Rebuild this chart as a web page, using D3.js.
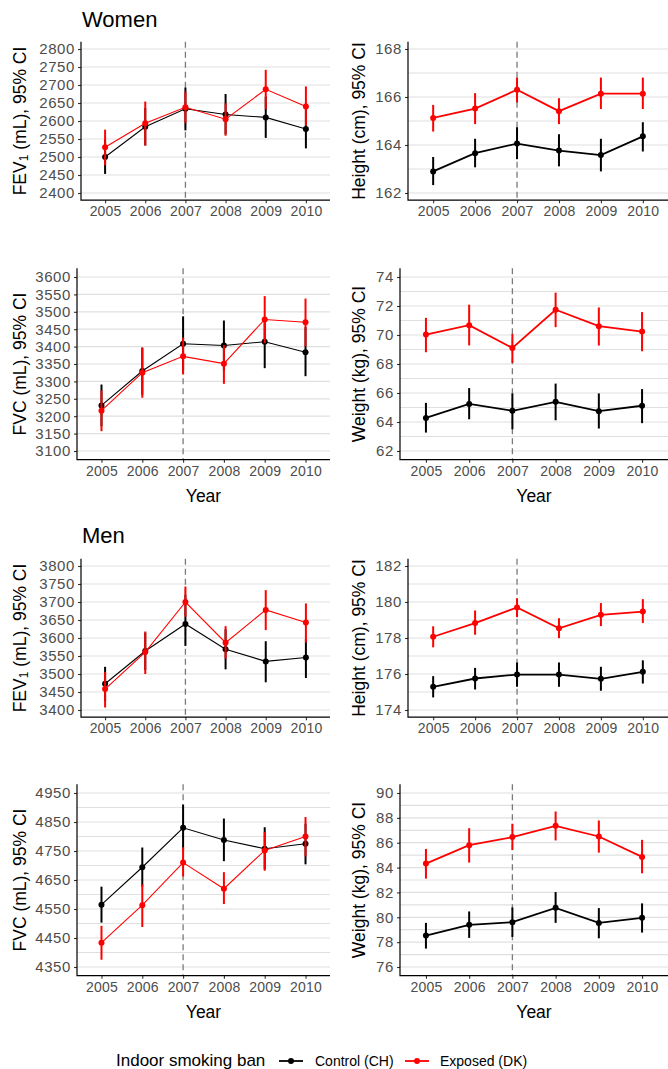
<!DOCTYPE html>
<html>
<head>
<meta charset="utf-8">
<script src="https://cdn.jsdelivr.net/npm/d3@7"></script>
<style>
  html, body { margin: 0; padding: 0; background: #ffffff; }
  svg { display: block; font-family: "Liberation Sans", Arial, sans-serif; }
</style>
</head>
<body>
<svg id="chart" width="668" height="1069"></svg>
<script>
// ---------------- DATA ----------------
const years = ["2005", "2006", "2007", "2008", "2009", "2010"];
const banYear = "2007";
const seriesNames = ["Control (CH)", "Exposed (DK)"];
const seriesColors = ["#000000", "#ff0000"];
const sectionTitles = ["Women", "Men"];
const legendTitle = "Indoor smoking ban";
const xTitle = "Year";

// each entry: [estimate, lower 95% CI, upper 95% CI]
const womenFev1Control = [[2500, 2453, 2548], [2584, 2532, 2636], [2634, 2574, 2693], [2618, 2563, 2675], [2610, 2553, 2668], [2578, 2524, 2632]];
const womenFev1Exposed = [[2527, 2477, 2576], [2594, 2532, 2654], [2638, 2594, 2682], [2605, 2559, 2649], [2688, 2633, 2742], [2640, 2587, 2696]];
const womenHeightControl = [[162.9, 162.33, 163.5], [163.66, 163.07, 164.26], [164.06, 163.41, 164.74], [163.77, 163.11, 164.45], [163.58, 162.9, 164.26], [164.36, 163.73, 164.95]];
const womenHeightExposed = [[165.13, 164.56, 165.67], [165.52, 164.87, 166.16], [166.3, 165.77, 166.81], [165.41, 164.87, 165.95], [166.14, 165.5, 166.81], [166.14, 165.5, 166.81]];
const womenFvcControl = [[3231, 3171, 3291], [3330, 3262, 3397], [3408, 3330, 3487], [3403, 3330, 3475], [3414, 3338, 3480], [3384, 3315, 3456]];
const womenFvcExposed = [[3216, 3157, 3274], [3325, 3253, 3397], [3372, 3320, 3426], [3351, 3293, 3404], [3478, 3410, 3545], [3470, 3401, 3538]];
const womenWeightControl = [[64.28, 63.27, 65.32], [65.25, 64.19, 66.34], [64.77, 63.5, 65.97], [65.39, 64.12, 66.65], [64.75, 63.55, 65.97], [65.12, 63.92, 66.27]];
const womenWeightExposed = [[70.03, 68.81, 71.18], [70.68, 69.28, 72.09], [69.11, 68.07, 70.08], [71.74, 70.54, 72.92], [70.61, 69.27, 71.9], [70.24, 68.88, 71.58]];

const menFev1Control = [[3473, 3425, 3520], [3564, 3511, 3615], [3639, 3578, 3720], [3569, 3513, 3624], [3535, 3477, 3591], [3546, 3489, 3597]];
const menFev1Exposed = [[3458, 3407, 3506], [3561, 3500, 3618], [3700, 3659, 3743], [3587, 3542, 3633], [3678, 3622, 3733], [3643, 3587, 3696]];
const menHeightControl = [[175.29, 174.7, 175.88], [175.75, 175.14, 176.34], [175.97, 175.29, 176.64], [175.97, 175.29, 176.64], [175.73, 175.07, 176.4], [176.12, 175.47, 176.76]];
const menHeightExposed = [[178.07, 177.48, 178.65], [178.83, 178.18, 179.53], [179.7, 179.16, 180.21], [178.54, 177.99, 179.1], [179.29, 178.66, 179.94], [179.47, 178.83, 180.16]];
const menFvcControl = [[4565, 4503, 4627], [4694, 4627, 4762], [4830, 4754, 4910], [4788, 4715, 4862], [4758, 4687, 4832], [4775, 4704, 4844]];
const menFvcExposed = [[4434, 4375, 4492], [4563, 4488, 4635], [4710, 4662, 4763], [4620, 4567, 4677], [4752, 4682, 4816], [4800, 4731, 4867]];
const menWeightControl = [[78.53, 77.48, 79.55], [79.39, 78.34, 80.47], [79.61, 78.42, 80.79], [80.76, 79.55, 82.03], [79.55, 78.31, 80.74], [79.96, 78.77, 81.12]];
const menWeightExposed = [[84.32, 83.11, 85.5], [85.8, 84.4, 87.17], [86.45, 85.42, 87.53], [87.36, 86.18, 88.51], [86.5, 85.2, 87.79], [84.86, 83.54, 86.23]];

// axis limits and tick labels
const womenFev1Limits = [2400, 2800];
const womenFev1Ticks = [2400, 2450, 2500, 2550, 2600, 2650, 2700, 2750, 2800];
const womenFev1Minor = [];
const womenHeightLimits = [162, 168];
const womenHeightTicks = [162, 164, 166, 168];
const womenHeightMinor = [163, 165, 167];
const womenFvcLimits = [3100, 3600];
const womenFvcTicks = [3100, 3150, 3200, 3250, 3300, 3350, 3400, 3450, 3500, 3550, 3600];
const womenFvcMinor = [];
const womenWeightLimits = [62, 74];
const womenWeightTicks = [62, 64, 66, 68, 70, 72, 74];
const womenWeightMinor = [63, 65, 67, 69, 71, 73];
const menFev1Limits = [3400, 3800];
const menFev1Ticks = [3400, 3450, 3500, 3550, 3600, 3650, 3700, 3750, 3800];
const menFev1Minor = [];
const menHeightLimits = [174, 182];
const menHeightTicks = [174, 176, 178, 180, 182];
const menHeightMinor = [175, 177, 179, 181];
const menFvcLimits = [4350, 4950];
const menFvcTicks = [4350, 4450, 4550, 4650, 4750, 4850, 4950];
const menFvcMinor = [4400, 4500, 4600, 4700, 4800, 4900];
const menWeightLimits = [76, 90];
const menWeightTicks = [76, 78, 80, 82, 84, 86, 88, 90];
const menWeightMinor = [77, 79, 81, 83, 85, 87, 89];

// ---------------- LAYOUT ----------------
const svg = d3.select("#chart");
const rows = [
  { top: 41.8, bottom: 200.2 },
  { top: 268.3, bottom: 459.7 },
  { top: 558.8, bottom: 717.2 },
  { top: 784.3, bottom: 975.7 }
];

const panels = [
  { row: 0, left: 81, right: 330, ctl: womenFev1Control, exp: womenFev1Exposed, lim: womenFev1Limits, ticks: womenFev1Ticks, minor: womenFev1Minor, label: "fev1", thin: true, ytx: 20 },
  { row: 0, left: 408, right: 668, ctl: womenHeightControl, exp: womenHeightExposed, lim: womenHeightLimits, ticks: womenHeightTicks, minor: womenHeightMinor, label: "Height (cm), 95% CI", thin: false, ytx: 359 },
  { row: 1, left: 77, right: 330, ctl: womenFvcControl, exp: womenFvcExposed, lim: womenFvcLimits, ticks: womenFvcTicks, minor: womenFvcMinor, label: "FVC (mL), 95% CI", thin: true, ytx: 20, xtitle: true },
  { row: 1, left: 400, right: 668, ctl: womenWeightControl, exp: womenWeightExposed, lim: womenWeightLimits, ticks: womenWeightTicks, minor: womenWeightMinor, label: "Weight (kg), 95% CI", thin: false, ytx: 359, xtitle: true },
  { row: 2, left: 81, right: 330, ctl: menFev1Control, exp: menFev1Exposed, lim: menFev1Limits, ticks: menFev1Ticks, minor: menFev1Minor, label: "fev1", thin: true, ytx: 20 },
  { row: 2, left: 408, right: 668, ctl: menHeightControl, exp: menHeightExposed, lim: menHeightLimits, ticks: menHeightTicks, minor: menHeightMinor, label: "Height (cm), 95% CI", thin: false, ytx: 359 },
  { row: 3, left: 77, right: 330, ctl: menFvcControl, exp: menFvcExposed, lim: menFvcLimits, ticks: menFvcTicks, minor: menFvcMinor, label: "FVC (mL), 95% CI", thin: true, ytx: 20, xtitle: true },
  { row: 3, left: 400, right: 668, ctl: menWeightControl, exp: menWeightExposed, lim: menWeightLimits, ticks: menWeightTicks, minor: menWeightMinor, label: "Weight (kg), 95% CI", thin: false, ytx: 359, xtitle: true }
];

const gridColor = "#e0e0e0";
const tickTextColor = "#4d4d4d";

panels.forEach(p => {
  const r = rows[p.row];
  const span = p.lim[1] - p.lim[0];
  const y = d3.scaleLinear().domain([p.lim[0] - 0.05 * span, p.lim[1] + 0.05 * span]).range([r.bottom, r.top]);
  const x = d3.scalePoint().domain(years).range([p.left, p.right]).padding(0.6);
  const g = svg.append("g");

  // grid lines
  const gridVals = p.ticks.concat(p.minor);
  g.append("g").selectAll("line").data(gridVals).join("line")
    .attr("x1", p.left).attr("x2", p.right)
    .attr("y1", d => y(d)).attr("y2", d => y(d))
    .attr("stroke", gridColor).attr("stroke-width", 1.2);

  // dashed vertical line at ban year
  g.append("line")
    .attr("x1", x(banYear)).attr("x2", x(banYear))
    .attr("y1", r.top).attr("y2", r.bottom)
    .attr("stroke", "#7a7a7a").attr("stroke-width", 1.3)
    .attr("stroke-dasharray", "6,4");

  // axes
  const yAxis = d3.axisLeft(y).tickValues(p.ticks).tickSize(3).tickPadding(3).tickFormat(d3.format("d"));
  const ya = g.append("g").attr("transform", `translate(${p.left},0)`).call(yAxis);
  const xAxis = d3.axisBottom(x).tickSize(3).tickPadding(3);
  const xa = g.append("g").attr("transform", `translate(0,${r.bottom})`).call(xAxis);
  [ya, xa].forEach(a => {
    a.select(".domain").remove();
    a.selectAll(".tick line").attr("stroke", "#333333").attr("stroke-width", 1.1);
    a.selectAll(".tick text").attr("fill", tickTextColor)
      .style("font-family", "'Liberation Sans', Arial, sans-serif");
  });
  ya.selectAll(".tick text").style("font-size", "15px").style("letter-spacing", "0.6px");
  xa.selectAll(".tick text").style("font-size", "14px").style("letter-spacing", "0.2px");
  // axis lines (L shape)
  g.append("path")
    .attr("d", `M${p.left},${r.top}V${r.bottom}H${p.right}`)
    .attr("fill", "none").attr("stroke", "#000000").attr("stroke-width", 1.2);

  // series
  const lw = p.thin ? 1.1 : 1.8;
  [p.ctl, p.exp].forEach((data, i) => {
    const col = seriesColors[i];
    const sg = g.append("g");
    sg.append("path")
      .datum(data)
      .attr("d", d3.line().x((d, j) => x(years[j])).y(d => y(d[0])))
      .attr("fill", "none").attr("stroke", col).attr("stroke-width", lw);
    sg.selectAll("line.err").data(data).join("line")
      .attr("class", "err")
      .attr("x1", (d, j) => x(years[j])).attr("x2", (d, j) => x(years[j]))
      .attr("y1", d => y(d[1])).attr("y2", d => y(d[2]))
      .attr("stroke", col).attr("stroke-width", 2);
    sg.selectAll("circle").data(data).join("circle")
      .attr("cx", (d, j) => x(years[j])).attr("cy", d => y(d[0]))
      .attr("r", 3).attr("fill", col);
  });

  // y title
  const cy = (r.top + r.bottom) / 2;
  const t = g.append("text")
    .attr("transform", `translate(${p.ytx},${cy}) rotate(-90)`)
    .attr("text-anchor", "middle").attr("dominant-baseline", "central")
    .style("font-size", "17.5px").attr("fill", "#000");
  if (p.label === "fev1") {
    t.append("tspan").text("FEV");
    t.append("tspan").attr("dy", 4).style("font-size", "12px").text("1");
    t.append("tspan").attr("dy", -4).text(" (mL), 95% CI");
  } else {
    t.text(p.label);
  }

  // x title
  if (p.xtitle) {
    g.append("text")
      .attr("x", (p.left + p.right) / 2).attr("y", r.bottom + 42)
      .attr("text-anchor", "middle").style("font-size", "17.5px").attr("fill", "#000")
      .text(xTitle);
  }
});

// section titles
svg.append("text").attr("x", 82).attr("y", 27).style("font-size", "22px").text(sectionTitles[0]);
svg.append("text").attr("x", 82).attr("y", 543).style("font-size", "22px").text(sectionTitles[1]);

// legend
const lg = svg.append("g");
lg.append("text").attr("x", 116).attr("y", 1066).style("font-size", "17px").text(legendTitle);
const keyX = [279, 405];
const labX = [315, 440];
seriesNames.forEach((n, i) => {
  lg.append("line").attr("x1", keyX[i]).attr("x2", keyX[i] + 24).attr("y1", 1061).attr("y2", 1061)
    .attr("stroke", seriesColors[i]).attr("stroke-width", 1.8);
  lg.append("circle").attr("cx", keyX[i] + 12).attr("cy", 1061).attr("r", 3).attr("fill", seriesColors[i]);
  lg.append("text").attr("x", labX[i]).attr("y", 1066).style("font-size", "14px").text(n);
});
</script>
</body>
</html>
